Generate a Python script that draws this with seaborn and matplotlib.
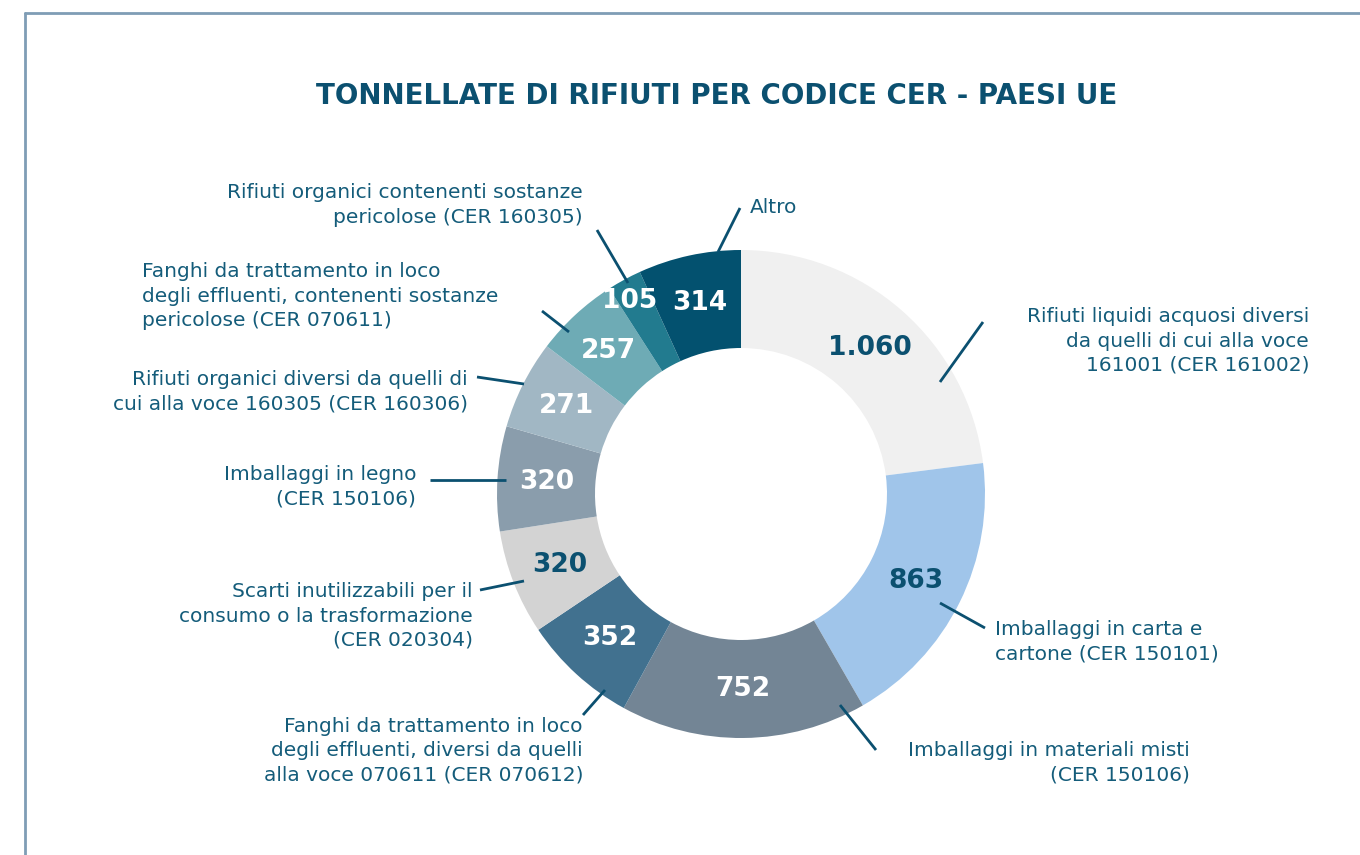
import numpy as np
import matplotlib
matplotlib.use("Agg")
import matplotlib.pyplot as plt
import seaborn as sns

# ---- data ----
categories = [
    "Rifiuti liquidi acquosi diversi\nda quelli di cui alla voce\n161001 (CER 161002)",
    "Imballaggi in carta e\ncartone (CER 150101)",
    "Imballaggi in materiali misti\n(CER 150106)",
    "Fanghi da trattamento in loco\ndegli effluenti, diversi da quelli\nalla voce 070611 (CER 070612)",
    "Scarti inutilizzabili per il\nconsumo o la trasformazione\n(CER 020304)",
    "Imballaggi in legno\n(CER 150106)",
    "Rifiuti organici diversi da quelli di\ncui alla voce 160305 (CER 160306)",
    "Fanghi da trattamento in loco\ndegli effluenti, contenenti sostanze\npericolose (CER 070611)",
    "Rifiuti organici contenenti sostanze\npericolose (CER 160305)",
    "Altro",
]
values = [1060, 863, 752, 352, 320, 320, 271, 257, 105, 314]
value_labels = ["1.060", "863", "752", "352", "320", "320", "271", "257", "105", "314"]

# ---- styles / layout ----
colors = ["#f0f0f0", "#a0c5ea", "#738595", "#41718f", "#d3d3d3",
          "#8a9dac", "#a1b7c4", "#6eabb5", "#227b8f", "#03516f"]
dark = "#0b5070"
value_colors = [dark, dark, "white", "white", dark, "white", "white", "white", "white", "white"]

W, H = 1360, 855
def P(x, y):
    return (x, H - y)

# leader lines (pixel coords) and label anchors
leaders = [
    ((940, 382), (983, 322)),
    ((940, 603), (985, 628)),
    ((840, 705), (876, 750)),
    ((605, 690), (583, 715)),
    ((524, 581), (480, 590)),
    ((506, 480), (430, 480)),
    ((524, 384), (477, 377)),
    ((569, 332), (542, 311)),
    ((628, 283), (597, 230)),
    ((718, 252), (740, 208)),
]
label_pos = [
    (1309, 341, "right", "center"),
    (995, 642, "left", "center"),
    (1190, 763, "right", "center"),
    (583, 751, "right", "center"),
    (473, 616, "right", "center"),
    (416, 487, "right", "center"),
    (468, 392, "right", "center"),
    (142, 296, "left", "center"),
    (583, 205, "right", "center"),
    (750, 207, "left", "center"),
]
value_offsets = {8: (-18, -22)}

sns.set_theme(style="white")
plt.rcParams["font.family"] = ["DejaVu Sans"]

fig = plt.figure(figsize=(W / 100, H / 100), dpi=100)
ax = fig.add_axes([0, 0, 1, 1])

cx, cy = 741, 494
R_out, R_in = 244, 146
wedges, _ = ax.pie(values, colors=colors, startangle=90, counterclock=False,
                   center=P(cx, cy), radius=R_out, frame=True,
                   wedgeprops=dict(width=R_out - R_in, edgecolor="none", linewidth=0))
ax.set_xlim(0, W)
ax.set_ylim(0, H)
ax.axis("off")

# value labels at wedge mid-angles
rmid = (R_out + R_in) / 2
for i, w in enumerate(wedges):
    ang = np.deg2rad((w.theta1 + w.theta2) / 2)
    x = cx + rmid * np.cos(ang)
    y = cy - rmid * np.sin(ang)
    dx, dy = value_offsets.get(i, (0, 0))
    ax.text(*P(x + dx, y + dy), value_labels[i], ha="center", va="center",
            fontsize=19, fontweight="bold", color=value_colors[i])

for (a, b) in leaders:
    ax.plot([a[0], b[0]], [H - a[1], H - b[1]], color=dark, lw=2, solid_capstyle="butt")

for i, (x, y, ha, va) in enumerate(label_pos):
    ax.text(*P(x, y), categories[i], ha=ha, va=va, multialignment=ha,
            fontsize=14.5, color="#145c7a", linespacing=1.36)

ax.text(*P(717, 96), "TONNELLATE DI RIFIUTI PER CODICE CER - PAESI UE",
        ha="center", va="center", fontsize=20, fontweight="bold", color=dark)

# frame
ax.plot([25, 25], [H - 13, 0], color="#7f9db5", lw=2)
ax.plot([25, W], [H - 13, H - 13], color="#7f9db5", lw=2)

fig.savefig("out.png", dpi=100)
